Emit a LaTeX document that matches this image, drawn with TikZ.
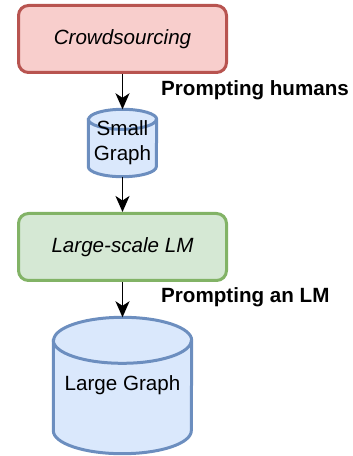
\documentclass[tikz,border=0pt]{standalone}
\usepackage{fontspec}
\setmainfont{Liberation Sans}
\usepackage{tikz}
\usetikzlibrary{arrows.meta}
\usetikzlibrary{backgrounds}
\definecolor{redfill}{HTML}{F8CECC}
\definecolor{redline}{HTML}{B85450}
\definecolor{greenfill}{HTML}{D5E8D4}
\definecolor{greenline}{HTML}{82B366}
\definecolor{bluefill}{HTML}{DAE8FC}
\definecolor{blueline}{HTML}{6C8EBF}
\newcommand{\drawdb}[3]{%
	\filldraw[dbline] ([yshift=-#3]#1.north west) -- ([yshift=#3]#1.south west)
		arc[start angle=180, end angle=360, x radius=#2, y radius=#3]
		-- ([yshift=-#3]#1.north east)
		arc[start angle=0, end angle=180, x radius=#2, y radius=#3] -- cycle;
	\draw[dbline] ([yshift=-#3]#1.north west)
		arc[start angle=180, end angle=360, x radius=#2, y radius=#3];
}
\begin{document}
\begin{tikzpicture}[x=1pt,y=1pt,
	every node/.style={font=\fontsize{20.6}{25}\selectfont},
	stepbox/.style={rectangle,rounded corners=10pt,draw,line width=3pt,minimum width=208pt,minimum height=67pt,inner sep=0pt},
	dbtext/.style={rectangle,inner sep=0pt,align=center},
	dbline/.style={draw=blueline,fill=bluefill,line width=3pt},
	flow/.style={-{Stealth[length=16pt,width=14pt,inset=4.5pt]},line width=1.8pt},
	note/.style={anchor=west,inner sep=0pt,font=\fontsize{20.6}{25}\selectfont\bfseries}]
	\useasboundingbox (0,0) rectangle (353,456);
	\node [stepbox,draw=redline,fill=redfill] (crowd) at (122.5,417) {\itshape Crowdsourcing};
	\node [dbtext,minimum width=68pt,minimum height=67pt] (small) at (122.5,313) {Small\\Graph};
	\node [stepbox,draw=greenline,fill=greenfill] (llm) at (122.5,209) {\itshape Large-scale LM};
	\node [dbtext,minimum width=138pt,minimum height=136pt] (large) at (122.5,70.5) {Large Graph};
	\begin{scope}[on background layer]
		\drawdb{small}{34pt}{10pt}
		\drawdb{large}{69pt}{23pt}
	\end{scope}
	\draw [flow] (crowd) -- (small);
	\draw [flow] (small) -- (llm);
	\draw [flow] (llm) -- (large);
	\node [note] (humans) at (161,366) {Prompting humans};
	\node [note] (anlm) at (161,159) {Prompting an LM};
\end{tikzpicture}
\end{document}
